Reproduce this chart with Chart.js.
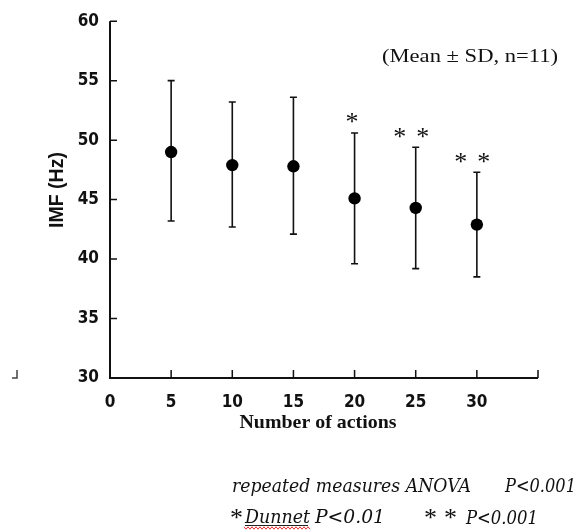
<!DOCTYPE html>
<html>
<head>
<meta charset="utf-8">
<script src="https://cdn.jsdelivr.net/npm/chart.js@4.4.1/dist/chart.umd.min.js"></script>
<style>
  body { margin: 0; background: #fff; }
  canvas { display: block; }
</style>
</head>
<body>
<canvas id="imfChart" width="583" height="531"></canvas>
<script>
const actions = [5, 10, 15, 20, 25, 30];
const imfMean = [49.0, 47.9, 47.8, 45.1, 44.3, 42.9];
const imfUpper = [55.0, 53.2, 53.6, 50.6, 49.4, 47.3];
const imfLower = [43.2, 42.7, 42.1, 39.6, 39.2, 38.5];
const marks = ["", "", "", "*", "* *", "* *"];
const xTicks = [0, 5, 10, 15, 20, 25, 30, 35];
const yTicks = [30, 35, 40, 45, 50, 55, 60];

const tickFont = { family: "'Liberation Sans Narrow', 'DejaVu Sans Condensed', sans-serif", size: 17, weight: "bold" };

// draw text squeezed/stretched to a given width
function fitText(ctx, text, x, y, font, width, align) {
  ctx.save();
  ctx.font = font;
  const w = ctx.measureText(text).width;
  const sx = width / w;
  let left = x;
  if (align === "center") left = x - width / 2;
  ctx.translate(left, y);
  ctx.scale(sx, 1);
  ctx.textAlign = "left";
  ctx.fillText(text, 0, 0);
  ctx.restore();
}

const extras = {
  id: "extras",
  beforeDatasetsDraw(chart) {
    const ctx = chart.ctx;
    const xs = chart.scales.x, ys = chart.scales.y;
    ctx.save();
    ctx.strokeStyle = "#111";
    ctx.lineWidth = 1.6;
    actions.forEach((a, i) => {
      const px = xs.getPixelForValue(a);
      const top = ys.getPixelForValue(imfUpper[i]);
      const bot = ys.getPixelForValue(imfLower[i]);
      ctx.beginPath();
      ctx.moveTo(px, top); ctx.lineTo(px, bot);
      ctx.moveTo(px - 3.5, top); ctx.lineTo(px + 3.5, top);
      ctx.moveTo(px - 3.5, bot); ctx.lineTo(px + 3.5, bot);
      ctx.stroke();
    });
    ctx.restore();
  },
  afterDraw(chart) {
    const ctx = chart.ctx;
    const xs = chart.scales.x, ys = chart.scales.y;
    const a = chart.chartArea;
    ctx.save();
    // axes
    ctx.strokeStyle = "#111";
    ctx.lineWidth = 2;
    ctx.beginPath();
    ctx.moveTo(a.left, a.top); ctx.lineTo(a.left, a.bottom); ctx.lineTo(a.right, a.bottom);
    ctx.stroke();
    ctx.lineWidth = 1.5;
    ctx.beginPath();
    yTicks.forEach(v => {
      const py = ys.getPixelForValue(v);
      ctx.moveTo(a.left, py); ctx.lineTo(a.left + 7, py);
    });
    xTicks.forEach(v => {
      if (v === 0) return;
      const px = xs.getPixelForValue(v);
      ctx.moveTo(px, a.bottom); ctx.lineTo(px, a.bottom - 8);
    });
    ctx.stroke();

    // stray corner mark at left
    ctx.strokeStyle = "#444";
    ctx.beginPath();
    ctx.moveTo(17, 370); ctx.lineTo(17, 378); ctx.lineTo(12, 378);
    ctx.stroke();

    ctx.fillStyle = "#111";
    ctx.textBaseline = "alphabetic";

    // significance marks
    ctx.font = "26px 'Liberation Serif', serif";
    ctx.textAlign = "center";
    marks.forEach((m, i) => {
      if (!m) return;
      const px = xs.getPixelForValue(actions[i]);
      const py = ys.getPixelForValue(imfUpper[i]) - 14.5 + 12;
      const n = m.split("*").length - 1;
      if (n === 1) {
        ctx.fillText("*", px - 2.5, py);
      } else {
        ctx.fillText("*", px - 16, py);
        ctx.fillText("*", px + 7, py);
      }
    });

    // axis titles
    ctx.save();
    ctx.translate(57.5, 190);
    ctx.rotate(-Math.PI / 2);
    ctx.textBaseline = "middle";
    fitText(ctx, "IMF (Hz)", 0, 0, "bold 20px 'Liberation Sans', sans-serif", 76, "center");
    ctx.restore();
    ctx.textBaseline = "middle";
    fitText(ctx, "Number of actions", 318, 423, "bold 19px 'Liberation Serif', serif", 157, "center");
    fitText(ctx, "(Mean \u00b1 SD, n=11)", 470, 57, "19px 'Liberation Serif', serif", 176, "center");

    // footnotes
    ctx.textBaseline = "alphabetic";
    const it = "italic 18px 'DejaVu Serif', serif";
    fitText(ctx, "repeated measures ANOVA", 232, 492, it, 239, "left");
    fitText(ctx, "P<0.001", 505, 492, it, 71, "left");
    ctx.font = "26px 'Liberation Serif', serif";
    ctx.textAlign = "left";
    ctx.fillText("*", 230, 526);
    ctx.fillText("*", 424, 526);
    ctx.fillText("*", 444, 526);
    fitText(ctx, "Dunnet", 245, 523, it, 65, "left");
    fitText(ctx, "P<0.01", 315, 523, it, 70, "left");
    fitText(ctx, "P<0.001", 466, 524, it, 72, "left");
    // underline + spell-check squiggle
    ctx.strokeStyle = "#222";
    ctx.lineWidth = 1;
    ctx.beginPath();
    ctx.moveTo(245, 525.5); ctx.lineTo(308, 525.5);
    ctx.stroke();
    ctx.strokeStyle = "#e03030";
    ctx.beginPath();
    for (let x = 244, k = 0; x <= 310; x += 2, k++) {
      const y = 528 + (k % 2 ? 1.2 : -1.2);
      if (k === 0) ctx.moveTo(x, y); else ctx.lineTo(x, y);
    }
    ctx.stroke();
    ctx.restore();
  }
};

const ctx = document.getElementById("imfChart").getContext("2d");
new Chart(ctx, {
  type: "scatter",
  data: {
    datasets: [{
      label: "IMF",
      data: actions.map((a, i) => ({ x: a, y: imfMean[i] })),
      backgroundColor: "#000",
      borderColor: "#000",
      pointRadius: 6.2,
      pointHoverRadius: 6.2,
      borderWidth: 0,
    }],
  },
  options: {
    responsive: false,
    animation: false,
    devicePixelRatio: 1,
    layout: { padding: { left: 0, top: 14, right: 45, bottom: 0 } },
    plugins: { legend: { display: false }, tooltip: { enabled: false } },
    scales: {
      x: {
        type: "linear",
        min: 0,
        max: 35,
        afterBuildTicks: s => { s.ticks = xTicks.map(v => ({ value: v })); },
        afterFit: s => { s.height = 153; },
        grid: { display: false, drawTicks: false },
        border: { display: false },
        ticks: {
          font: tickFont,
          color: "#111",
          padding: 14,
          maxRotation: 0,
          callback: v => (v === 35 ? "" : v),
        },
      },
      y: {
        min: 30,
        max: 60,
        afterBuildTicks: s => { s.ticks = yTicks.map(v => ({ value: v })); },
        afterFit: s => { s.width = 110; },
        grid: { display: false, drawTicks: false },
        border: { display: false },
        ticks: { font: tickFont, color: "#111", padding: 11 },
      },
    },
  },
  plugins: [extras],
});
</script>
</body>
</html>
